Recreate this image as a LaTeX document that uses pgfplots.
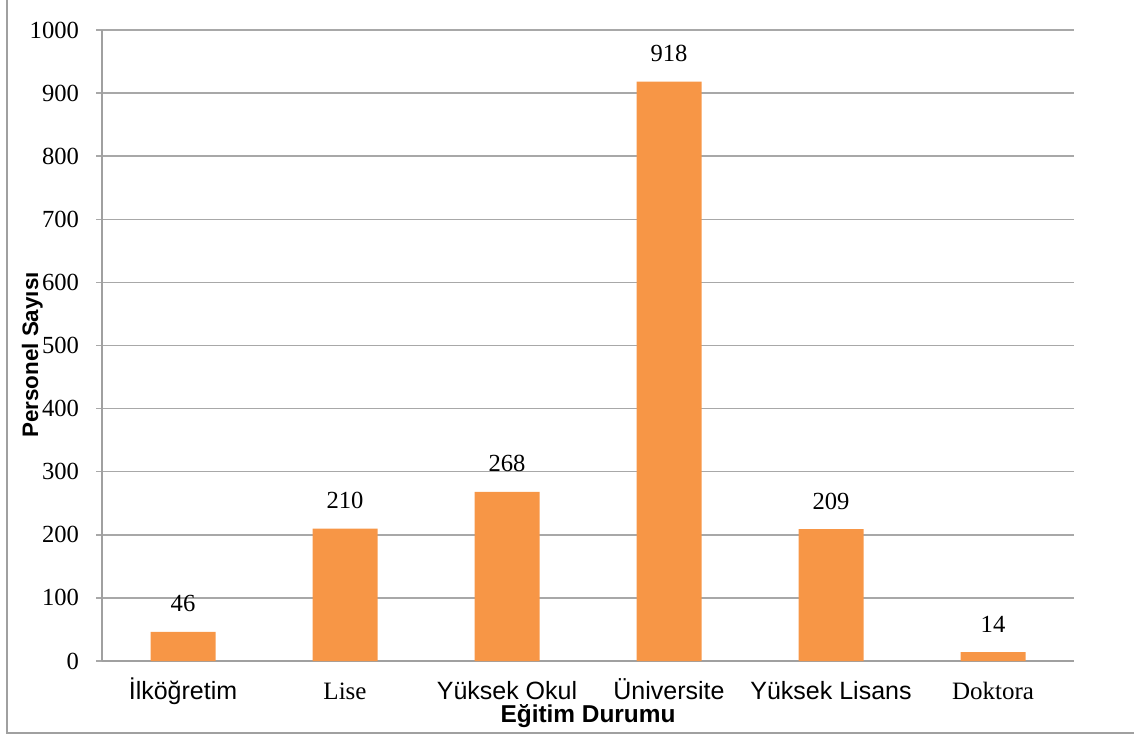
\documentclass[border=0pt]{standalone}
\usepackage{fontspec}
\setmainfont{Liberation Serif}
\setsansfont{Liberation Sans}
\usepackage{pgfplots}
\pgfplotsset{compat=1.18}
\definecolor{barorange}{RGB}{247,150,70}
\definecolor{gridgray}{RGB}{168,168,168}
\definecolor{framegray}{RGB}{160,160,160}
\begin{document}
\begin{tikzpicture}
\useasboundingbox (0,0) rectangle (567pt,368pt);
\draw[framegray, line width=1pt] (3.5pt,368pt) -- (3.5pt,1.5pt) -- (567pt,1.5pt);
\begin{axis}[
  scale only axis,
  width=486pt, height=315.5pt,
  at={(51pt,37.5pt)}, anchor=south west,
  xmin=-0.5, xmax=5.5,
  ymin=0, ymax=1000,
  ytick={0,100,...,1000},
  xtick={0,1,2,3,4,5},
  xticklabels={{\sffamily İlköğretim},{Lise},{\sffamily Yüksek Okul},{\sffamily Üniversite},{\sffamily Yüksek Lisans},{Doktora}},
  axis lines*=left,
  axis line style={framegray, line width=1pt},
  ymajorgrids,
  grid style={gridgray, line width=0.75pt},
  major x tick style={draw=none},
  major y tick style={gridgray, line width=0.75pt},
  major tick length=3pt,
  tick align=outside,
  /pgf/number format/assume math mode=true,
  /pgf/number format/1000 sep={},
  yticklabel style={font=\fontsize{12.3}{14}\selectfont, anchor=east, xshift=-5pt},
  xticklabel style={font=\fontsize{12.5}{14}\selectfont, anchor=base, yshift=-16pt},
  every axis x label/.style={at={(axis description cs:0.5,-0.0967)}, anchor=base},
  every axis y label/.style={at={(axis description cs:-0.0658,0.485)}, rotate=90, anchor=base},
  xlabel={\sffamily\bfseries\fontsize{12.2}{14}\selectfont Eğitim Durumu},
  ylabel={\sffamily\bfseries\fontsize{11.2}{12}\selectfont Personel Sayısı},
  ybar, bar width=32.5pt,
  nodes near coords,
  every node near coord/.append style={font=\fontsize{12.3}{14}\selectfont, anchor=base, yshift=10pt, black},
  clip=false,
]
\addplot[fill=barorange, draw=none] coordinates {(0,46) (1,210) (2,268) (3,918) (4,209) (5,14)};
\end{axis}
\end{tikzpicture}
\end{document}
